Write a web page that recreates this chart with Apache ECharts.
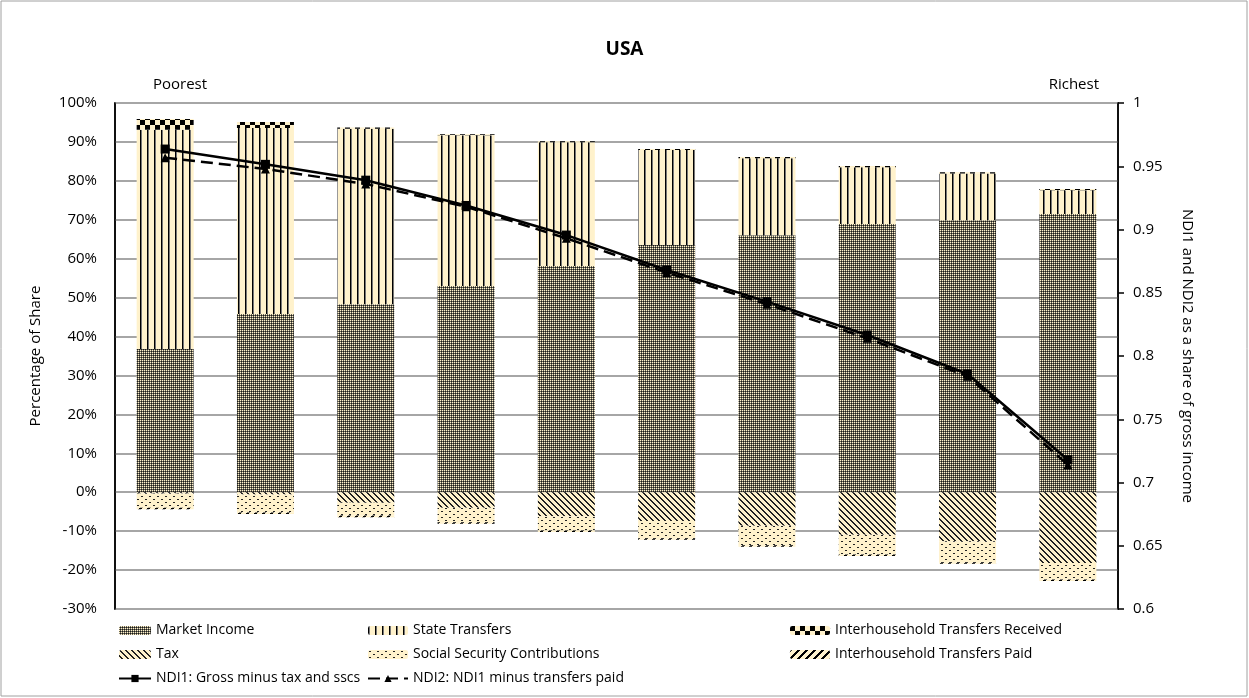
<!DOCTYPE html>
<html>
<head>
<meta charset="utf-8">
<style>
  html, body { margin: 0; padding: 0; background: #fff; }
  #chart { width: 1249px; height: 698px; }
</style>
<script src="https://cdn.jsdelivr.net/npm/echarts@6/dist/echarts.min.js"></script>
</head>
<body>
<div id="chart"></div>
<script>
// deciles, poorest -> richest
var deciles = ["1", "2", "3", "4", "5", "6", "7", "8", "9", "10"];

// shares in %
var marketIncome = [36.8, 45.8, 48.3, 53.0, 58.1, 63.5, 66.0, 68.9, 69.9, 71.5];
var stateTransfers = [56.3, 47.8, 45.1, 38.7, 31.8, 24.4, 19.8, 14.6, 12.0, 6.1];
var ihTransfersReceived = [2.8, 1.5, 0.3, 0.3, 0.3, 0.3, 0.3, 0.3, 0.3, 0.3];
var tax = [-0.3, -0.6, -2.7, -4.0, -6.2, -7.4, -8.6, -10.9, -12.6, -18.2];
var ssc = [-3.7, -4.6, -3.3, -3.7, -3.6, -4.4, -5.0, -5.1, -5.4, -4.2];
var ihTransfersPaid = [-0.4, -0.4, -0.4, -0.4, -0.4, -0.4, -0.4, -0.4, -0.4, -0.4];

// right axis
var ndi1 = [0.9636, 0.9515, 0.939, 0.919, 0.8956, 0.868, 0.843, 0.8166, 0.7858, 0.718];
var ndi2 = [0.9568, 0.9478, 0.936, 0.918, 0.893, 0.866, 0.841, 0.814, 0.784, 0.714];

var cream = "#fff2cc";
var font = "'Open Sans', sans-serif";
var fs = 15;

function pattern(w, h, draw) {
  var c = document.createElement("canvas");
  c.width = w; c.height = h;
  var ctx = c.getContext("2d");
  ctx.fillStyle = cream;
  ctx.fillRect(0, 0, w, h);
  draw(ctx);
  return { image: c, repeat: "repeat" };
}

var pMarket = pattern(2, 2, function (ctx) {
  ctx.fillStyle = "#6a6656"; ctx.fillRect(1, 0, 1, 1); ctx.fillRect(0, 1, 1, 1);
  ctx.fillStyle = "#1a1a1a"; ctx.fillRect(1, 1, 1, 1);
});
var pState = pattern(7, 4, function (ctx) {
  ctx.fillStyle = "#000"; ctx.fillRect(0, 0, 1, 4);
  ctx.fillStyle = "#777"; ctx.fillRect(1, 0, 1, 4);
});
var pReceived = pattern(10, 10, function (ctx) {
  ctx.fillStyle = "#000"; ctx.fillRect(0, 0, 5, 5); ctx.fillRect(5, 5, 5, 5);
});
var pTax = pattern(6, 6, function (ctx) {
  ctx.fillStyle = "#222";
  for (var i = 0; i < 6; i++) { ctx.fillRect(i, i, 1, 1); ctx.fillRect((i + 1) % 6, i, 1, 1); }
});
var pSsc = pattern(8, 6, function (ctx) {
  ctx.fillStyle = "#222"; ctx.fillRect(1, 1, 2, 1); ctx.fillRect(5, 4, 2, 1);
});
var pPaid = pattern(8, 8, function (ctx) {
  ctx.fillStyle = "#000";
  for (var i = 0; i < 8; i++) {
    for (var k = 0; k < 3; k++) ctx.fillRect((7 - i + k) % 8, i, 1, 1);
  }
});

function barSeries(name, data, fill) {
  return {
    name: name, type: "bar", stack: "share", data: data,
    barWidth: 57, itemStyle: { color: fill }
  };
}

var legendText = { fontSize: 14, color: "#000", lineHeight: 17, fontFamily: font };

var chart = echarts.init(document.getElementById("chart"), null, { renderer: "canvas" });
chart.setOption({
  animation: false,
  textStyle: { fontFamily: font },
  title: {
    text: "USA", left: "center", top: 35,
    textStyle: { fontSize: 19, fontWeight: "bold", color: "#000", fontFamily: font }
  },
  grid: {
    left: 115, right: 131, top: 103, bottom: 89,
    show: true, borderColor: "#000", borderWidth: 1.5
  },
  legend: [
    { left: 118, top: 622, padding: 0, orient: "vertical", itemWidth: 32, itemHeight: 9, itemGap: 7,
      textStyle: legendText,
      data: ["Market Income", "Tax", "NDI1: Gross minus tax and sscs"] },
    { left: 367, top: 622, padding: 0, orient: "vertical", itemWidth: 40, itemHeight: 9, itemGap: 7,
      textStyle: legendText,
      data: ["State Transfers", "Social Security Contributions", "NDI2: NDI1 minus transfers paid"] },
    { left: 790, top: 622, padding: 0, orient: "vertical", itemWidth: 40, itemHeight: 9, itemGap: 7,
      textStyle: legendText,
      data: ["Interhousehold Transfers Received", "Interhousehold Transfers Paid"] }
  ],
  xAxis: {
    type: "category", data: deciles,
    axisLine: { show: false }, axisTick: { show: false }, axisLabel: { show: false }
  },
  yAxis: [
    {
      type: "value", min: -30, max: 100, interval: 10,
      name: "Percentage of Share", nameLocation: "middle", nameGap: 72,
      nameTextStyle: { fontSize: fs, color: "#000", fontFamily: font },
      axisLine: { show: true, lineStyle: { color: "#000", width: 1.5 } },
      axisTick: { show: false },
      axisLabel: { formatter: "{value}%", fontSize: fs, color: "#000", margin: 18, fontFamily: font },
      splitLine: { lineStyle: { color: "#a6a6a6", width: 2 } }
    },
    {
      type: "value", min: 0.6, max: 1, interval: 0.05,
      name: "NDI1 and NDI2 as a share of gross income", nameLocation: "middle", nameGap: 62,
      nameRotate: -90,
      nameTextStyle: { fontSize: fs, color: "#000", fontFamily: font },
      axisLine: { show: true, lineStyle: { color: "#000", width: 1.5 } },
      axisTick: { show: true, length: 6, lineStyle: { color: "#000", width: 1.5 } },
      axisLabel: { fontSize: fs, color: "#000", margin: 15, fontFamily: font },
      splitLine: { show: false }
    }
  ],
  graphic: [
    { type: "rect", shape: { x: 1, y: 1, width: 1246, height: 695 }, style: { fill: "none", stroke: "#a0a0a0", lineWidth: 1 } },
    { type: "text", left: 153, top: 77, style: { text: "Poorest", fontSize: fs, fill: "#000", fontFamily: font } },
    { type: "text", right: 150, top: 77, style: { text: "Richest", fontSize: fs, fill: "#000", fontFamily: font } }
  ],
  series: [
    barSeries("Market Income", marketIncome, pMarket),
    barSeries("State Transfers", stateTransfers, pState),
    barSeries("Interhousehold Transfers Received", ihTransfersReceived, pReceived),
    barSeries("Tax", tax, pTax),
    barSeries("Social Security Contributions", ssc, pSsc),
    barSeries("Interhousehold Transfers Paid", ihTransfersPaid, pPaid),
    {
      name: "NDI1: Gross minus tax and sscs", type: "line", yAxisIndex: 1, data: ndi1,
      symbol: "rect", symbolSize: 9, z: 5,
      lineStyle: { color: "#000", width: 2.5 }, itemStyle: { color: "#000" }
    },
    {
      name: "NDI2: NDI1 minus transfers paid", type: "line", yAxisIndex: 1, data: ndi2,
      symbol: "triangle", symbolSize: 9, z: 4,
      lineStyle: { color: "#000", width: 2.5, type: [12, 6] }, itemStyle: { color: "#000" }
    }
  ]
});
</script>
</body>
</html>
